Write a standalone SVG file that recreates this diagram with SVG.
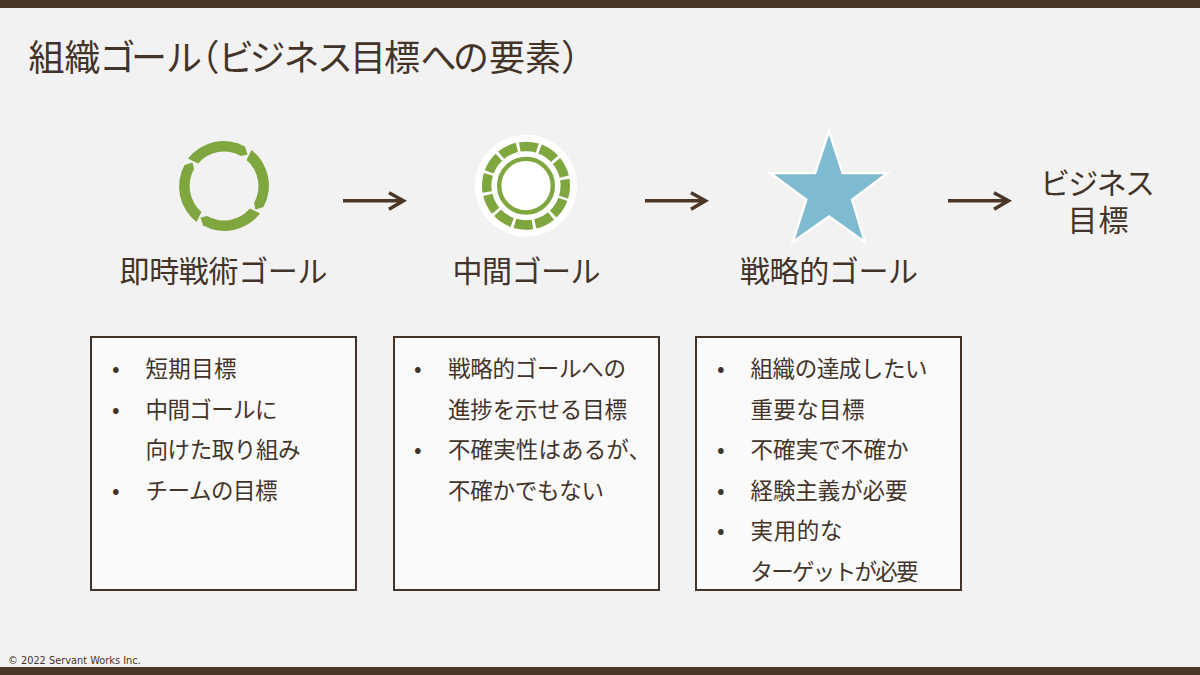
<svg xmlns="http://www.w3.org/2000/svg" width="1200" height="675" viewBox="0 0 1200 675">
<style>
text{font-family:"Noto Sans CJK JP","Noto Sans",sans-serif;fill:#43342a}
.t{font-size:36px}.l{font-size:30px}.b{font-size:22.5px}
.box{fill:#fafafa;stroke:#43342a;stroke-width:2}
.bar{fill:#4a3728}
.c{fill:none;stroke:#4a3728;stroke-width:3.5}
.g{fill:#80a63f}
</style>
<rect width="1200" height="675" fill="#f2f2f2"/>
<rect class="bar" width="1200" height="8"/>
<rect class="bar" y="667" width="1200" height="8"/>
<text class="t" x="28.500 64.500 99.500 131 166 183.500 218 249.500 283.500 317 350 384 420.500 453 489 525 561" y="71">組織ゴール（ビジネス目標への要素）</text>
<g id="node-immediate">
<g transform="translate(224 186)">
<defs><path id="seg" d="M-36-27.500A45 45 0 0 1 21-39.500L23.500-31.500 17-30A34.500 34.500 0 0 0-26-22.500Z"/></defs>
<use href="#seg" class="g"/><use href="#seg" class="g" transform="rotate(90)"/><use href="#seg" class="g" transform="rotate(180)"/><use href="#seg" class="g" transform="rotate(270)"/>
</g>
<text class="l" x="119.500" y="282" textLength="208">即時戦術ゴール</text>
</g>
<g id="node-mid">
<circle cx="526" cy="185.7" r="51" fill="#fff"/>
<circle cx="526" cy="185.7" r="39.300" fill="none" stroke="#80a63f" stroke-width="9.5" stroke-dasharray="17.7 2.88" transform="rotate(20.4 526 185.7)"/>
<circle cx="526" cy="185.7" r="26.8" fill="#fff" stroke="#80a63f" stroke-width="4.4"/>
<text class="l" x="452.500" y="282" textLength="148">中間ゴール</text>
</g>
<g id="node-strategic">
<polygon points="829,135 841.7,174.3 884,174.3 850.7,199.3 862.7,239 829,215 795,239 807.7,199.3 774,174.3 816,174.3" fill="#7ebbd0" stroke="#fff" stroke-width="4.8" stroke-miterlimit="10" paint-order="stroke fill"/>
<text class="l" x="740" y="282" textLength="178">戦略的ゴール</text>
</g>
<g id="node-business">
<text class="l" x="1040" y="194" textLength="115">ビジネス</text>
<text class="l" x="1067.500" y="231" textLength="61">目標</text>
</g>
<g id="connectors">
<path class="c" d="M343 200.7H403M389 192.7L403.500 200.7 389 209.3"/>
<path class="c" d="M645 200.7H705M691 192.7L705.500 200.7 691 209.3"/>
<path class="c" d="M948 200.7H1008M994 192.7L1008.500 200.7 994 209.3"/>
</g>
<g id="box-1">
<rect class="box" x="91" y="337" width="265" height="253"/>
<g class="b">
<text x="112" y="377">•</text><text x="145.500" y="377" textLength="91">短期目標</text>
<text x="112" y="418">•</text><text x="145.500" y="418" textLength="132">中間ゴールに</text>
<text x="145.500" y="458" textLength="155">向けた取り組み</text>
<text x="112" y="499">•</text><text x="145.500" y="499" textLength="132">チームの目標</text>
</g>
</g>
<g id="box-2">
<rect class="box" x="394" y="337" width="265" height="253"/>
<g class="b">
<text x="414" y="377">•</text><text x="448" y="377" textLength="178">戦略的ゴールへの</text>
<text x="448" y="418" textLength="179">進捗を示せる目標</text>
<text x="414" y="458">•</text><text x="448" y="458" textLength="203">不確実性はあるが、</text>
<text x="448" y="499" textLength="156">不確かでもない</text>
</g>
</g>
<g id="box-3">
<rect class="box" x="696" y="337" width="265" height="253"/>
<g class="b">
<text x="717" y="377">•</text><text x="750.500" y="377" textLength="177">組織の達成したい</text>
<text x="750.500" y="418" textLength="114">重要な目標</text>
<text x="717" y="458">•</text><text x="750.500" y="458" textLength="158">不確実で不確か</text>
<text x="717" y="499">•</text><text x="750.500" y="499" textLength="157">経験主義が必要</text>
<text x="717" y="539">•</text><text x="750.500" y="539" textLength="92">実用的な</text>
<text x="750.500" y="580" textLength="168">ターゲットが必要</text>
</g>
</g>
<text x="8" y="664" font-size="9.800" style="font-family:'DejaVu Sans',sans-serif">© 2022 Servant Works Inc.</text>
</svg>
